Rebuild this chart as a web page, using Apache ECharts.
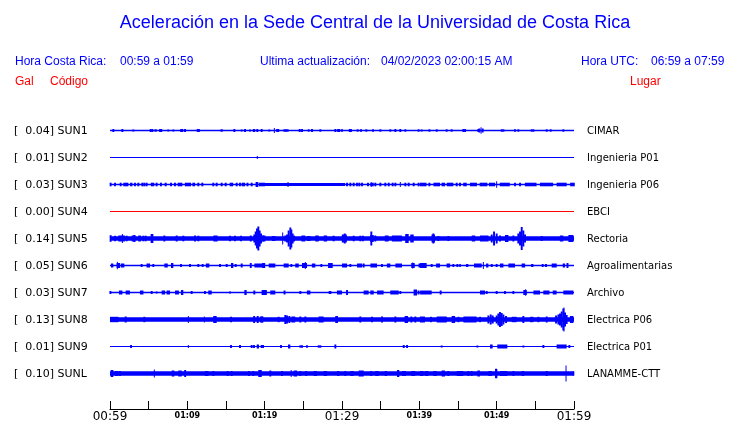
<!DOCTYPE html>
<html><head><meta charset="utf-8">
<script src="https://cdn.jsdelivr.net/npm/echarts@6/dist/echarts.min.js"></script>
<style>html,body{margin:0;padding:0;background:#fff}#c{width:740px;height:423px}</style>
</head><body><div id="c"></div>
<script>
// ---- labels ----
const codes = ['SUN1','SUN2','SUN3','SUN4','SUN5','SUN6','SUN7','SUN8','SUN9','SUNL'];
const galValues = ['0.04','0.01','0.03','0.00','0.14','0.05','0.03','0.13','0.01','0.10'];
const places = ['CIMAR','Ingenieria P01','Ingenieria P06','EBCI','Rectoria','Agroalimentarias','Archivo','Electrica P06','Electrica P01','LANAMME-CTT'];
const tickMinutes = [0,5,10,15,20,25,30,35,40,45,50,55,60]; // minutes after 00:59
const startHour = 0, startMinute = 59;

// ---- baseline segments [tStart, tEnd, halfAmplitude] ----
const base_SUN1 = [[0,60,0.75]];
const base_SUN2 = [[0,60,0.5]];
const base_SUN3 = [[0,19.7,0.75],[19.7,30.4,1.5],[30.4,60,0.75]];
const base_SUN4 = [[0,60,0.5]];
const base_SUN5 = [[0,60,2.2]];
const base_SUN6 = [[0,60,0.75]];
const base_SUN7 = [[0,60,0.75]];
const base_SUN8 = [[0,60,2.2]];
const base_SUN9 = [[0,60,0.5]];
const base_SUNL = [[0,60,2.2]];

// ---- bursts [minute, halfAmplitude, duration(min)] ----
const bursts_SUN1 = [[0.43,1.5],[1.6,1.5],[3.02,1],[5.26,1.5],[5.47,1.5],[5.9,1.2,0.3],[6.55,1.5,0.4],[7.54,1],[8.19,1],[9.27,1.5,0.4],[9.7,1.5],[11.42,1.5,0.4],[14.44,1.2,0.3],[16.08,1.5],[17.03,1],[17.46,1.5],[18.1,1],[18.62,1.5,0.3],[19.05,1.5],[19.61,1.5],
 [20.6,1],[21.25,2.5,0.13],[21.68,1.5,0.4],[22.54,1.2],[22.76,1.2],[22.97,1.2],[24.53,1.5],[24.83,1.5],[25.69,1.2],[26.12,1.5],[27.2,1.2],[29.14,1.5],[29.57,1.5,0.4],[30.0,1.2],[31.08,1.5,0.4],[32.03,1.2],[32.46,1.2],[33.15,1.2],[34.01,1.2],[34.96,1.2],[36.25,1.2],[36.9,1.5],[37.54,1.5],[38.19,1.2],[39.9,1.2],
 [40.3,1],[41.3,1.2],[42.25,1.2],[43.54,1.2],[44.18,1.2],[45.69,1.5],[45.91,1.5],[47.63,1.5],[47.76,2],[47.98,3.3,0.13],[48.19,2],[50.65,1.2],[50.87,1.2],[52.37,1.2],[52.8,1.2],[54.53,1.2],[54.75,1.2],[56.47,1.2],[56.99,1.2],[58.62,1.2]];
const bursts_SUN2 = [[19.05,1.5,0.13]];
const bursts_SUN3 = [[0.08,1.8],[0.65,1.8],[1.38,1.8],[2.05,1.8,0.65],[2.75,1.8,0.3],[3.23,1.8],[3.66,1.8],[4.18,1.8],[4.44,1.8],[4.74,1.8],[5.5,1.8,0.45],[6.03,1.8],[6.59,1.8],[7.2,1.8],[7.89,1.8],[8.4,1.8],[9.05,1.8,0.6],[10.08,1.8,0.8],[10.83,1.8,0.35],[11.42,1.8],[11.94,1.8],[13.36,1.8],[13.79,1.8],[14.44,1.8],[14.96,1.8],[15.7,1.8,0.45],[16.38,1.8],[16.81,1.8],[17.25,1.8,0.45],[17.78,1.8],[18.32,1.8],[19.0,2.5,0.35],[19.65,1.8,0.8],
 [23.02,2.5,0.13],[30.65,1.8],[31.08,1.8],[31.51,1.8],[31.94,1.8],[32.24,1.8],[32.59,1.8],[33.36,1.8],[33.88,1.8,0.45],[33.79,2.3,0.13],[34.31,1.8],[34.96,1.8],[35.6,1.8],[36.04,1.8],[36.55,1.8],[36.9,1.8],[37.54,2.5,0.13],[38.19,1.8],[38.62,1.8],[39.27,1.8],[39.9,1.8],
 [40.5,1.8,0.85],[41.3,1.8],[42.25,1.8,0.85],[43.1,1.8,0.45],[43.97,1.8,0.85],[44.83,1.8],[45.26,1.8],[45.9,1.8,0.45],[47.0,1.8,0.9],[48.3,1.8,1.0],[49.4,1.8,0.8],[50.0,3.3,0.13],[51.05,1.8,1.3],[52.37,1.8],[53.02,1.8],[54.4,1.8,1.5],[56.45,1.8,1.7],[58.4,1.8,1.3],[59.8,1.8,0.6]];
const bursts_SUN4 = [];
const bursts_SUN5 = [[0.08,3.3],[0.65,2.8],[1.5,3.0,0.85],[1.6,4.5,0.13],[2.15,2.8],[3.05,3.0,0.5],[3.15,3.5],[3.83,3.0,0.35],[4.31,2.8],[4.61,2.8],[5.43,4.5,0.35],[7.03,3],[8.62,3],[9.48,2.8],[11.0,3],[11.42,2.8],[13.64,3,0.55],[15.52,2.8],[16.16,2.8],[16.94,2.8],[18.2,3],[18.66,4],[18.84,7],[19.01,10],[19.18,12],[19.35,8],[19.53,5],[19.78,3],
 [19.9,3,0.4],[21.17,2.5,0.45],[22.33,6,0.13],[22.67,3],[22.89,4],[23.1,8],[23.32,11],[23.45,9],[23.62,5],[23.8,3],[25.0,3,0.5],[25.7,2.5,0.45],[26.77,3,0.45],[27.85,3,0.45],[28.92,2.8],[30.3,4,0.65],[30.35,5],[31.51,2.8],[32.37,2.8],[32.7,2.8],[33.88,3.5,0.45],[33.79,7],[34.31,3],[35.78,3,0.5],[37.1,3,1.3],[38.4,4.5,0.45],[39.05,4,0.45],
 [41.8,4,0.45],[41.81,5],[42.46,2.5],[43.75,2.5],[47.0,3,0.45],[48.4,3,1.1],[49.36,4],[49.66,7],[50.0,5],[50.43,3],[51.3,3.5,0.45],[52.16,3],[52.8,5],[53.02,7],[53.24,11.5],[53.45,8],[53.67,4],[55.82,2.5],[58.4,3,0.45],[59.6,3.5,0.65]];
const bursts_SUN6 = [[0.28,2,0.3],[1.08,2.5,0.45],[0.95,3.7,0.13],[1.63,2,0.45],[4.09,1.5],[4.95,2,0.45],[5.6,1.5],[7.25,2,0.45],[8.04,2.5,0.3],[9.18,1.5],[10.34,1.5],[11.42,1.5],[11.98,1.5],[12.62,2,0.45],[14.22,1.5],[15.09,1.5],[15.8,2.5,0.3],[16.25,1.5],[17.03,2],[18.2,2.5],[19.25,2,1.15],[19.87,2.5,0.4],
 [20.95,2,0.85],[22.78,2,0.65],[23.45,1.5],[24.18,2,0.45],[25.15,2.5,0.65],[25.26,3.5,0.13],[26.33,2,0.45],[27.33,1.5],[28.5,2.5,0.6],[30.33,2,0.65],[31.08,1.5],[32.27,2,0.65],[32.8,2],[34.1,2,0.85],[35.17,1.5],[36.03,2,0.45],[37.33,2,0.85],[39.18,2.5,0.45],[39.14,3,0.13],[40.12,2,0.45],
 [40.52,2.5,0.85],[41.6,1.5],[42.42,2,0.5],[43.75,2,0.45],[44.4,1.5],[44.92,1.5],[45.26,1.5,0.2],[46.19,1.5,0.3],[47.57,2,1.0],[48.28,3.5,0.13],[48.78,2,0.3],[49.36,1.5],[50.0,1.5],[50.65,2,0.45],[51.94,2,0.85],[53.45,2,0.45],[54.6,1.5,0.3],[55.95,1.5],[56.38,1.5],[57.44,2,0.65],[58.69,2,0.3],[59.16,2.5]];
const bursts_SUN7 = [[0.05,1.5],[1.38,2,0.45],[2.3,2,0.55],[4.1,2,0.45],[5.39,1.5],[6.03,1],[6.9,2,0.45],[7.54,2,0.45],[8.66,2,0.5],[9.33,2.5,0.3],[10.56,1.5],[12.28,1.5],[12.93,2,0.45],[15.52,1],[17.52,2.5,0.3],[18.66,2],[19.78,2.5,0.35],
 [20.08,2.5,0.4],[21.05,2,0.65],[22.57,2],[24.61,1.5],[25.69,2,0.45],[28.45,1.5,0.35],[29.67,2,0.65],[30.65,2.5],[33.12,2,0.65],[33.88,2,0.45],[34.96,2,0.85],[36.79,2,1.1],[37.54,1.5],[39.48,3,0.45],[39.9,2],
 [40.85,2,1.5],[42.76,2],[48.17,2,0.65],[48.71,1.5],[50.0,1.5],[51.08,1.5],[52.16,1.5],[53.67,2.5,0.45],[53.75,3.2,0.13],[55.18,2,0.85],[56.43,2,0.8],[57.5,2,0.5],[59.27,2,1.3]];
const bursts_SUN8 = [[0.55,2.7,1.1],[2.03,3],[4.44,2.7],[10.13,3.5,0.13],[12.2,3,0.13],[13.57,3.5,0.45],[15.65,2.7],[18.64,3.5],[19.1,3.5],[19.61,3,0.45],
 [19.66,3],[21.81,2.7],[22.67,4.5],[22.89,4],[23.19,3.5],[23.7,3,0.5],[24.61,3],[25.26,3],[27.3,3,0.65],[29.3,3.5,0.35],[32.37,3],[33.88,2.7],[35.17,3],[36.9,3],[38.32,3.5,0.45],[38.97,3],[39.48,3],
 [40.4,3,0.65],[41.5,2.7],[42.9,3,1.3],[44.4,3.5,0.45],[45.05,2.7],[46.55,3,1.7],[47.85,2.7],[48.93,4],[49.23,5],[49.49,4],[50.0,4],[50.22,6],[50.43,7.5],[50.65,6.5],[50.87,5],[51.21,3.5],[52.27,2.7,0.65],[53.45,3.5],[54.53,2.7,0.45],[55.39,2.7],[56.47,3],[57.68,4],[57.98,5],[58.19,6],[58.41,8],[58.62,11],[58.7,12,0.13],[58.84,7],[59.05,4.5],[59.7,3.5,0.45]];
const bursts_SUN9 = [[2.72,1.5],[10.13,1.5,0.13],[15.65,1.5],[16.81,1.5],[18.32,1.5],[18.62,1.5],[19.12,2,0.3],[19.61,1.5],
 [19.79,1.5],[22.11,1.5],[23.17,2,0.3],[24.61,1.2],[24.83,1.2],[25.47,1.2],[26.98,1.2],[27.2,1.2],[29.14,2],[37.98,1.5],[38.41,1.5],
 [42.89,1],[47.5,1],[49.31,2,0.35],[50.73,2,1.3],[53.45,1],[56.04,1.5],[58.4,2,1.3],[59.4,1.5]];
const bursts_SUNL = [[0.26,3.5,0.35],[0.86,2.5,0.45],[1.29,2.5],[5.73,4,0.13],[8.15,3,0.35],[9.05,3,0.45],[9.72,3.5],[12.5,2.5,0.45],[13.36,2.5],[15.22,2.5],[15.73,2.5],[17.97,2.5],[18.53,2.5],[19.4,3.5,0.45],
 [20.73,3],[22.24,2.5],[23.43,3.5,0.13],[23.97,3,0.45],[24.61,2.5],[25.37,2.5],[26.55,2.5,0.45],[27.85,2.5,0.45],[29.5,2.5,0.3],[30.43,2.5],[31.3,2.5,0.45],[32.48,3,0.65],[33.77,2.5],[34.53,2.5,0.45],[35.67,2.5,0.3],[37.26,3.5,0.3],[38.02,2.5,0.5],[39.22,2.5,0.5],
 [40.3,2.5,0.45],[40.95,2.5,0.45],[42.03,2.5,0.45],[43.1,3,0.45],[43.75,2.5],[45.26,2.5,0.85],[46.34,2.5],[46.77,2.5],[47.67,3,0.35],[49.15,2.5,0.45],[49.94,4.5,0.3],[49.92,5,0.13],[50.9,2.5,0.95],[52.16,2.5],[53.39,2.5,0.3],[56.47,2.5],[58.97,8,0.13],[59.92,2]];

const baseSets = [base_SUN1,base_SUN2,base_SUN3,base_SUN4,base_SUN5,base_SUN6,base_SUN7,base_SUN8,base_SUN9,base_SUNL];
const burstSets = [bursts_SUN1,bursts_SUN2,bursts_SUN3,bursts_SUN4,bursts_SUN5,bursts_SUN6,bursts_SUN7,bursts_SUN8,bursts_SUN9,bursts_SUNL];
const traceColors = ['#0000ff','#0000ff','#0000ff','#ff0000','#0000ff','#0000ff','#0000ff','#0000ff','#0000ff','#0000ff'];

// ---- layout ----
const ROW0 = 130.5, ROWH = 27, PLOT_L = 110, PLOT_W = 464, DEFAULT_DUR = 0.25, TEXT_DY = 1;
const chart = echarts.init(document.getElementById('c'), null, {renderer:'canvas'});

const grids = [], xAxes = [], yAxes = [], series = [], graphics = [];
codes.forEach((code, i) => {
  grids.push({left: PLOT_L, width: PLOT_W, top: ROW0 + ROWH*i - ROWH/2, height: ROWH});
  xAxes.push({gridIndex: i, type: 'value', min: 0, max: 60, show: false});
  yAxes.push({gridIndex: i, type: 'value', min: -ROWH/2, max: ROWH/2, show: false});
  const color = traceColors[i];
  series.push({
    type: 'custom', xAxisIndex: i, yAxisIndex: i, silent: true, animation: false,
    data: baseSets[i],
    encode: {x: [0,1], y: 2},
    renderItem: (p, api) => {
      const a = api.coord([api.value(0), api.value(2)]);
      const b = api.coord([api.value(1), -api.value(2)]);
      return {type: 'rect', shape: {x: a[0], y: a[1], width: b[0]-a[0], height: Math.max(b[1]-a[1], 1)}, style: {fill: color}};
    }
  });
  series.push({
    type: 'custom', xAxisIndex: i, yAxisIndex: i, silent: true, animation: false,
    data: burstSets[i].map(d => [d[0], d[1], d.length > 2 ? d[2] : DEFAULT_DUR]),
    encode: {x: 0, y: 1},
    renderItem: (p, api) => {
      const t = api.value(0), amp = api.value(1), dur = api.value(2);
      const a = api.coord([t - dur/2, amp]);
      const b = api.coord([t + dur/2, -amp]);
      return {type: 'rect', shape: {x: a[0], y: a[1], width: Math.max(b[0]-a[0], 1), height: b[1]-a[1]}, style: {fill: color}};
    }
  });
  graphics.push({type: 'text', x: 14, y: ROW0 + ROWH*i + TEXT_DY, style: {text: '[  ' + galValues[i] + '] ' + code, font: '11px "DejaVu Sans"', fill: '#000', align: 'left', verticalAlign: 'middle'}});
  graphics.push({type: 'text', x: 587, y: ROW0 + ROWH*i + TEXT_DY, style: {text: places[i], font: '10px "DejaVu Sans"', fill: '#000', align: 'left', verticalAlign: 'middle'}});
});

// time axis
const axisIdx = codes.length;
grids.push({left: PLOT_L, width: PLOT_W, top: 360, height: 49});
function fmtTime(v) {
  const tot = startHour*60 + startMinute + v;
  const h = Math.floor(tot/60), m = tot % 60;
  return String(h).padStart(2,'0') + ':' + String(m).padStart(2,'0');
}
xAxes.push({
  gridIndex: axisIdx, type: 'value', min: tickMinutes[0], max: tickMinutes[tickMinutes.length-1], interval: 5,
  axisLine: {show: true, lineStyle: {color: '#000', width: 1}},
  axisTick: {show: true, inside: true, length: 8, lineStyle: {color: '#000', width: 1}},
  splitLine: {show: false},
  axisLabel: {
    show: true, margin: 2, color: '#000',
    formatter: v => (v % 30 === 0) ? '{big|' + fmtTime(v) + '}' : (v % 10 === 0 ? '{small|' + fmtTime(v) + '}' : ''),
    rich: {
      big: {fontFamily: 'DejaVu Sans', fontSize: 12, color: '#000'},
      small: {fontFamily: 'DejaVu Sans', fontSize: 8, fontWeight: 'bold', color: '#000', padding: [1,0,0,0]}
    }
  }
});
yAxes.push({gridIndex: axisIdx, type: 'value', min: 0, max: 1, show: false});

// header text
const blue = '#0000ff', red = '#ff0000';
const hfont = '12px "Liberation Sans", Arial, sans-serif';
graphics.push(
  {type: 'text', x: 375, y: 23, style: {text: 'Aceleración en la Sede Central de la Universidad de Costa Rica', font: '18px "Liberation Sans", Arial, sans-serif', fill: blue, align: 'center', verticalAlign: 'middle'}},
  {type: 'text', x: 15, y: 62, style: {text: 'Hora Costa Rica:', font: hfont, fill: blue, verticalAlign: 'middle'}},
  {type: 'text', x: 120, y: 62, style: {text: '00:59 a 01:59', font: hfont, fill: blue, verticalAlign: 'middle'}},
  {type: 'text', x: 260, y: 62, style: {text: 'Ultima actualización:', font: hfont, fill: blue, verticalAlign: 'middle'}},
  {type: 'text', x: 381, y: 62, style: {text: '04/02/2023 02:00:15 AM', font: hfont, fill: blue, verticalAlign: 'middle'}},
  {type: 'text', x: 581, y: 62, style: {text: 'Hora UTC:', font: hfont, fill: blue, verticalAlign: 'middle'}},
  {type: 'text', x: 651, y: 62, style: {text: '06:59 a 07:59', font: hfont, fill: blue, verticalAlign: 'middle'}},
  {type: 'text', x: 15, y: 82, style: {text: 'Gal', font: hfont, fill: red, verticalAlign: 'middle'}},
  {type: 'text', x: 50, y: 82, style: {text: 'Código', font: hfont, fill: red, verticalAlign: 'middle'}},
  {type: 'text', x: 630, y: 82, style: {text: 'Lugar', font: hfont, fill: red, verticalAlign: 'middle'}}
);

chart.setOption({
  animation: false,
  backgroundColor: '#fff',
  grid: grids, xAxis: xAxes, yAxis: yAxes, series: series,
  graphic: {elements: graphics}
});
</script></body></html>
